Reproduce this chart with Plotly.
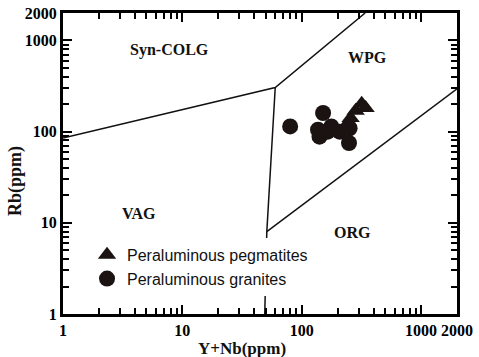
import math
import plotly.graph_objects as go

# Data points
gran_x = [80, 151, 137, 141, 177, 208, 252, 249, 165]
gran_y = [114, 160, 105, 88, 114, 100, 109, 75, 100]
peg_x = [229, 257, 283, 318, 343]
peg_y = [112, 141, 169, 202, 182]

# Discrimination boundaries (Y+Nb, Rb)
b1_x = [1, 60, 340]
b1_y = [85, 305, 2000]
b2_x = [60, 51, 49]
b2_y = [305, 8, 1]
b3_x = [51, 2000]
b3_y = [8, 295]

# Field labels
field_names = ["Syn-COLG", "WPG", "VAG", "ORG"]
field_x = [7.8, 357, 4.32, 267]
field_y = [791, 646, 12.8, 7.75]

xtick_vals = [1, 10, 100, 1000, 2000]
ytick_vals = [1, 10, 100, 1000, 2000]


def minors(top):
    out = []
    for d in [1, 10, 100, 1000]:
        for k in range(2, 10):
            v = k * d
            if v < top:
                out.append(v)
    return out


fig = go.Figure()
for bx, by in [(b1_x, b1_y), (b2_x, b2_y), (b3_x, b3_y)]:
    fig.add_trace(go.Scatter(x=bx, y=by, mode="lines", line=dict(color="#111", width=1.5),
                             showlegend=False, hoverinfo="skip"))

fig.add_trace(go.Scatter(x=peg_x, y=peg_y, mode="markers", name="Peraluminous pegmatites",
                         marker=dict(symbol="triangle-up", size=16, color="#1a1311")))
fig.add_trace(go.Scatter(x=gran_x, y=gran_y, mode="markers", name="Peraluminous granites",
                         marker=dict(symbol="circle", size=16, color="#1a1311")))

RNG = [0, math.log10(2000)]


def axis(vals, minor_vals):
    return dict(type="log", range=RNG, showgrid=False, showline=True,
                linewidth=3, linecolor="black", ticks="inside", ticklen=9, tickwidth=2,
                tickcolor="black", mirror="ticks", tickmode="array", tickvals=vals,
                minor=dict(ticks="inside", ticklen=6, tickwidth=1.5, tickcolor="black",
                           tickmode="array", tickvals=minor_vals))


annotations = []
for n, fx, fy in zip(field_names, field_x, field_y):
    annotations.append(dict(x=math.log10(fx), y=math.log10(fy), xref="x", yref="y",
                            text="<b>%s</b>" % n, showarrow=False,
                            font=dict(family="Liberation Serif, Times New Roman, serif", size=16,
                                      color="#111"),
                            xanchor="center", yanchor="middle"))

annotations.append(dict(x=0.454, y=-0.113, xref="paper", yref="paper", text="<b>Y+Nb(ppm)</b>",
                        showarrow=False, xanchor="center", yanchor="middle",
                        font=dict(family="Liberation Serif, Times New Roman, serif", size=17,
                                  color="#111")))
annotations.append(dict(x=-0.119, y=0.442, xref="paper", yref="paper", text="<b>Rb(ppm)</b>",
                        showarrow=False, xanchor="center", yanchor="middle", textangle=-90,
                        font=dict(family="Liberation Serif, Times New Roman, serif", size=18,
                                  color="#111")))

fig.update_layout(
    width=479, height=357,
    margin=dict(l=63, r=22, t=13, b=43, autoexpand=False),
    font=dict(family="Liberation Serif, Times New Roman, serif", size=16, color="black",
              weight="bold"),
    paper_bgcolor="white", plot_bgcolor="white",
    xaxis=axis(xtick_vals, minors(2000)),
    yaxis=axis(ytick_vals, minors(1000)),
    annotations=annotations,
    legend=dict(x=0.061, y=0.253, xanchor="left", yanchor="top", bgcolor="white",
                font=dict(family="Liberation Sans, Arial, sans-serif", size=16, color="#111",
                          weight="normal"),
                tracegroupgap=0),
)

fig.write_html("out.html")
